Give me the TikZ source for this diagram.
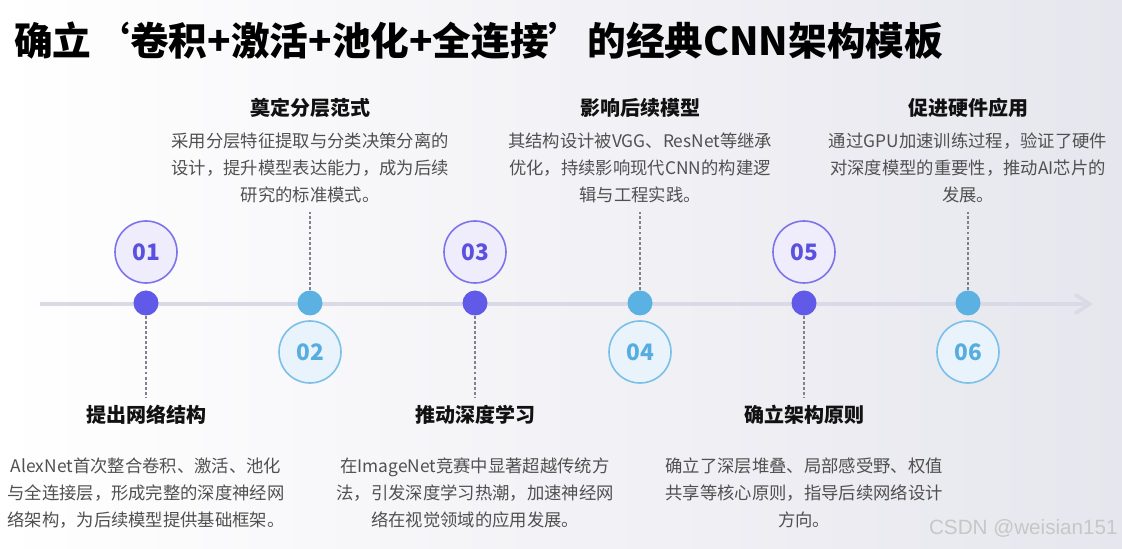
\documentclass[tikz,border=0pt]{standalone}
\usepackage{fontspec}
\setmainfont{Noto Sans CJK SC}
\newfontfamily\wmfont{Liberation Sans}
\usetikzlibrary{arrows.meta}
\definecolor{pdot}{HTML}{6159E8}
\definecolor{bdot}{HTML}{5BB2E2}
\definecolor{pfill}{HTML}{EFEDFB}
\definecolor{pline}{HTML}{7D74EC}
\definecolor{bfill}{HTML}{E9F3FB}
\definecolor{bline}{HTML}{7BC0E8}
\definecolor{pnum}{HTML}{5A51E0}
\definecolor{bnum}{HTML}{58ADE0}
\definecolor{axisc}{HTML}{DADAE6}
\definecolor{dotc}{HTML}{80808F}
\definecolor{descc}{HTML}{505050}
\definecolor{titc}{HTML}{111111}
\definecolor{bgr}{HTML}{E6E6EE}
\tikzset{
  pdotn/.style={circle,fill=pdot,minimum size=25*0.75pt,inner sep=0pt},
  bdotn/.style={circle,fill=bdot,minimum size=25*0.75pt,inner sep=0pt},
  pnumn/.style={circle,fill=pfill,draw=pline,line width=1.2pt,minimum size=62*0.75pt,inner sep=0pt,text=pnum,font=\fontsize{17}{17}\selectfont\bfseries},
  bnumn/.style={circle,fill=bfill,draw=bline,line width=1.2pt,minimum size=62*0.75pt,inner sep=0pt,text=bnum,font=\fontsize{17}{17}\selectfont\bfseries},
  stitle/.style={text=titc,font=\fontsize{15}{15}\selectfont\bfseries,inner sep=0pt},
  sdesc/.style={text=descc,font=\fontsize{13}{20.3}\selectfont,align=center,inner sep=0pt},
  dotline/.style={draw=dotc,line width=1.7pt,dash pattern=on 2.2pt off 1.6pt},
  axisline/.style={draw=axisc,line width=2.6pt,-{Straight Barb[length=11pt,width=14pt,line width=2.6pt]}}
}
\begin{document}
\begin{tikzpicture}[x=0.75pt,y=-0.75pt]
\useasboundingbox (0,0) rectangle (1122,549);
\shade[left color=white,right color=bgr] (0,0) rectangle (1122,549);
\node[anchor=west,text=black,font=\fontsize{29}{29}\selectfont\bfseries,inner sep=0pt] (title) at (14,41) {确立‘卷积+激活+池化+全连接’的经典CNN架构模板};
% axis
\coordinate (axs) at (40,304);
\coordinate (axe) at (1093,304);
\draw[axisline] (axs) -- (axe);
% dots
\node[pdotn] (d1) at (146,303) {};
\node[bdotn] (d2) at (310,303) {};
\node[pdotn] (d3) at (475,303) {};
\node[bdotn] (d4) at (640,303) {};
\node[pdotn] (d5) at (804,303) {};
\node[bdotn] (d6) at (968,303) {};
% number circles
\node[pnumn] (n1) at (146,252) {01};
\node[bnumn] (n2) at (310,352) {02};
\node[pnumn] (n3) at (475,252) {03};
\node[bnumn] (n4) at (640,352) {04};
\node[pnumn] (n5) at (804,252) {05};
\node[bnumn] (n6) at (968,352) {06};
% dotted connectors
\coordinate (e1) at (146,397);
\coordinate (e2) at (310,212);
\coordinate (e3) at (475,397);
\coordinate (e4) at (640,212);
\coordinate (e5) at (804,397);
\coordinate (e6) at (968,212);
\draw[dotline] (d1.south) -- (e1);
\draw[dotline] (d2.north) -- (e2);
\draw[dotline] (d3.south) -- (e3);
\draw[dotline] (d4.north) -- (e4);
\draw[dotline] (d5.south) -- (e5);
\draw[dotline] (d6.north) -- (e6);
% titles
\node[stitle] (t1) at (146,415) {提出网络结构};
\node[stitle] (t2) at (310,108) {奠定分层范式};
\node[stitle] (t3) at (475,415) {推动深度学习};
\node[stitle] (t4) at (640,108) {影响后续模型};
\node[stitle] (t5) at (804,415) {确立架构原则};
\node[stitle] (t6) at (968,108) {促进硬件应用};
% descriptions
\node[sdesc] (s1) at (146,493) {AlexNet首次整合卷积、激活、池化\\与全连接层，形成完整的深度神经网\\络架构，为后续模型提供基础框架。};
\node[sdesc] (s2) at (310,168) {采用分层特征提取与分类决策分离的\\设计，提升模型表达能力，成为后续\\研究的标准模式。};
\node[sdesc] (s3) at (475,493) {在ImageNet竞赛中显著超越传统方\\法，引发深度学习热潮，加速神经网\\络在视觉领域的应用发展。};
\node[sdesc] (s4) at (640,168) {其结构设计被VGG、ResNet等继承\\优化，持续影响现代CNN的构建逻\\辑与工程实践。};
\node[sdesc] (s5) at (804,493) {确立了深层堆叠、局部感受野、权值\\共享等核心原则，指导后续网络设计\\方向。};
\node[sdesc] (s6) at (968,168) {通过GPU加速训练过程，验证了硬件\\对深度模型的重要性，推动AI芯片的\\发展。};
% watermark
\node[anchor=east,text=black!22,font=\wmfont\fontsize{15.5}{15.5}\selectfont,inner sep=0pt] (wm) at (1118,528) {CSDN @weisian151};
\end{tikzpicture}
\end{document}
